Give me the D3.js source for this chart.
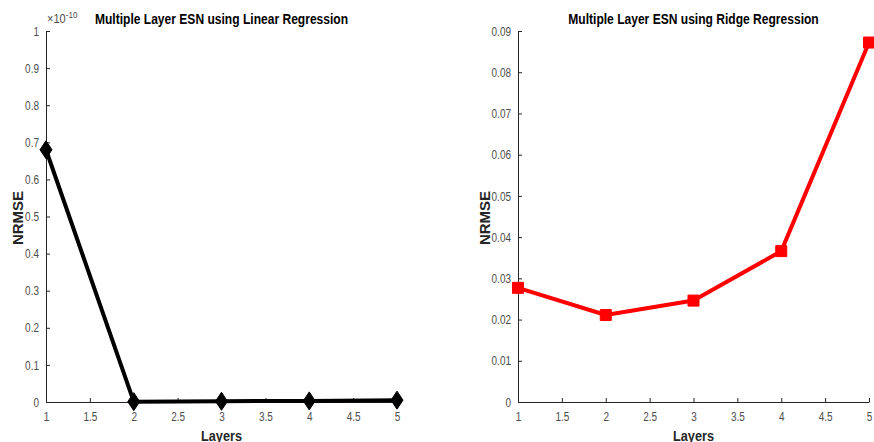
<!DOCTYPE html>
<html>
<head>
<meta charset="utf-8">
<script src="https://cdn.jsdelivr.net/npm/d3@7"></script>
<style>
  body { margin: 0; background: #fff; }
  svg { display: block; }
  .tick text { font-family: "Liberation Sans", Arial, sans-serif; font-size: 12.8px; fill: #4d4d4d; }
  .title { font-family: "Liberation Sans", Arial, sans-serif; font-weight: bold; font-size: 14.2px; fill: #000; }
  .lab { font-family: "Liberation Sans", Arial, sans-serif; font-weight: bold; font-size: 15px; fill: #262626; }
</style>
</head>
<body>
<div id="chart"></div>
<script>
// layers on x axis
var layers = [1, 2, 3, 4, 5];
// NRMSE, linear regression (units of 1e-10)
var linearNrmse = [0.68, 0.001, 0.002, 0.003, 0.005];
// NRMSE, ridge regression
var ridgeNrmse = [0.0277, 0.0211, 0.0246, 0.0366, 0.0872];
var xTicks = [1, 1.5, 2, 2.5, 3, 3.5, 4, 4.5, 5];
var linearTicks = [0, 0.1, 0.2, 0.3, 0.4, 0.5, 0.6, 0.7, 0.8, 0.9, 1];
var ridgeTicks = [0, 0.01, 0.02, 0.03, 0.04, 0.05, 0.06, 0.07, 0.08, 0.09];

var W = 874, H = 442;
var svg = d3.select("#chart").append("svg")
    .attr("width", W)
    .attr("height", H);

var plotTop = 31, plotBottom = 402;
var squeeze = "scale(0.85,1)";
var tickSqueeze = "scale(0.78,1)";

function drawPanel(opt) {
    var x = d3.scaleLinear().domain([1, 5]).range([opt.left, opt.right]);
    var y = d3.scaleLinear().domain(opt.yDomain).range([plotBottom, plotTop]);

    var g = svg.append("g");

    // x axis, ticks pointing in
    g.append("g")
        .attr("transform", "translate(0," + plotBottom + ")")
        .call(d3.axisBottom(x).tickValues(xTicks).tickSizeInner(-4).tickSizeOuter(0).tickPadding(10)
            .tickFormat(d3.format("")))
        .selectAll(".tick text").attr("transform", tickSqueeze);
    // y axis
    g.append("g")
        .attr("transform", "translate(" + opt.left + ",0)")
        .call(d3.axisLeft(y).tickValues(opt.yTicks).tickSizeInner(-4).tickSizeOuter(0).tickPadding(9)
            .tickFormat(d3.format("")))
        .selectAll(".tick text").attr("transform", tickSqueeze);
    g.selectAll(".domain").attr("stroke", "#262626");
    g.selectAll(".tick line").attr("stroke", "#262626");

    var line = d3.line()
        .x(function (d, i) { return x(layers[i]); })
        .y(function (d) { return y(d); });

    g.append("path")
        .datum(opt.values)
        .attr("fill", "none")
        .attr("stroke", opt.color)
        .attr("stroke-width", 4)
        .attr("stroke-linejoin", "round")
        .attr("d", line);

    var sym = opt.marker === "diamond" ? "M0,-9L6,0L0,9L-6,0Z" : "M-5.5,-5.5H5.5V5.5H-5.5Z";
    g.selectAll(".mk")
        .data(opt.values)
        .enter().append("path")
        .attr("class", "mk")
        .attr("transform", function (d, i) { return "translate(" + x(layers[i]) + "," + y(d) + ")"; })
        .attr("d", sym)
        .attr("fill", opt.color)
        .attr("stroke", opt.color)
        .attr("stroke-width", 1);

    var cx = (opt.left + opt.right) / 2;
    g.append("text")
        .attr("class", "title")
        .attr("transform", "translate(" + cx + ",24) " + squeeze)
        .attr("text-anchor", "middle")
        .text(opt.title);

    g.append("text")
        .attr("class", "lab")
        .attr("transform", "translate(" + cx + ",441) " + squeeze)
        .attr("text-anchor", "middle")
        .text("Layers");

    g.append("text")
        .attr("class", "lab")
        .attr("transform", "translate(" + opt.yLabelX + ",218) rotate(-90)")
        .attr("text-anchor", "middle")
        .text("NRMSE");

    return g;
}

var leftPanel = drawPanel({
    left: 46, right: 397,
    yDomain: [0, 1], yTicks: linearTicks,
    values: linearNrmse, color: "#000", marker: "diamond",
    title: "Multiple Layer ESN using Linear Regression",
    yLabelX: 23
});

// exponent label
var ex = leftPanel.append("text")
    .attr("transform", "translate(47,23) " + squeeze)
    .style("font-family", "\"Liberation Sans\", Arial, sans-serif")
    .style("font-size", "13px")
    .style("fill", "#4d4d4d");
ex.append("tspan").text("\u00d710");
ex.append("tspan").attr("dy", -5).style("font-size", "9.5px").text("-10");

drawPanel({
    left: 518, right: 869,
    yDomain: [0, 0.09], yTicks: ridgeTicks,
    values: ridgeNrmse, color: "#ff0000", marker: "square",
    title: "Multiple Layer ESN using Ridge Regression",
    yLabelX: 490
});
</script>
</body>
</html>
